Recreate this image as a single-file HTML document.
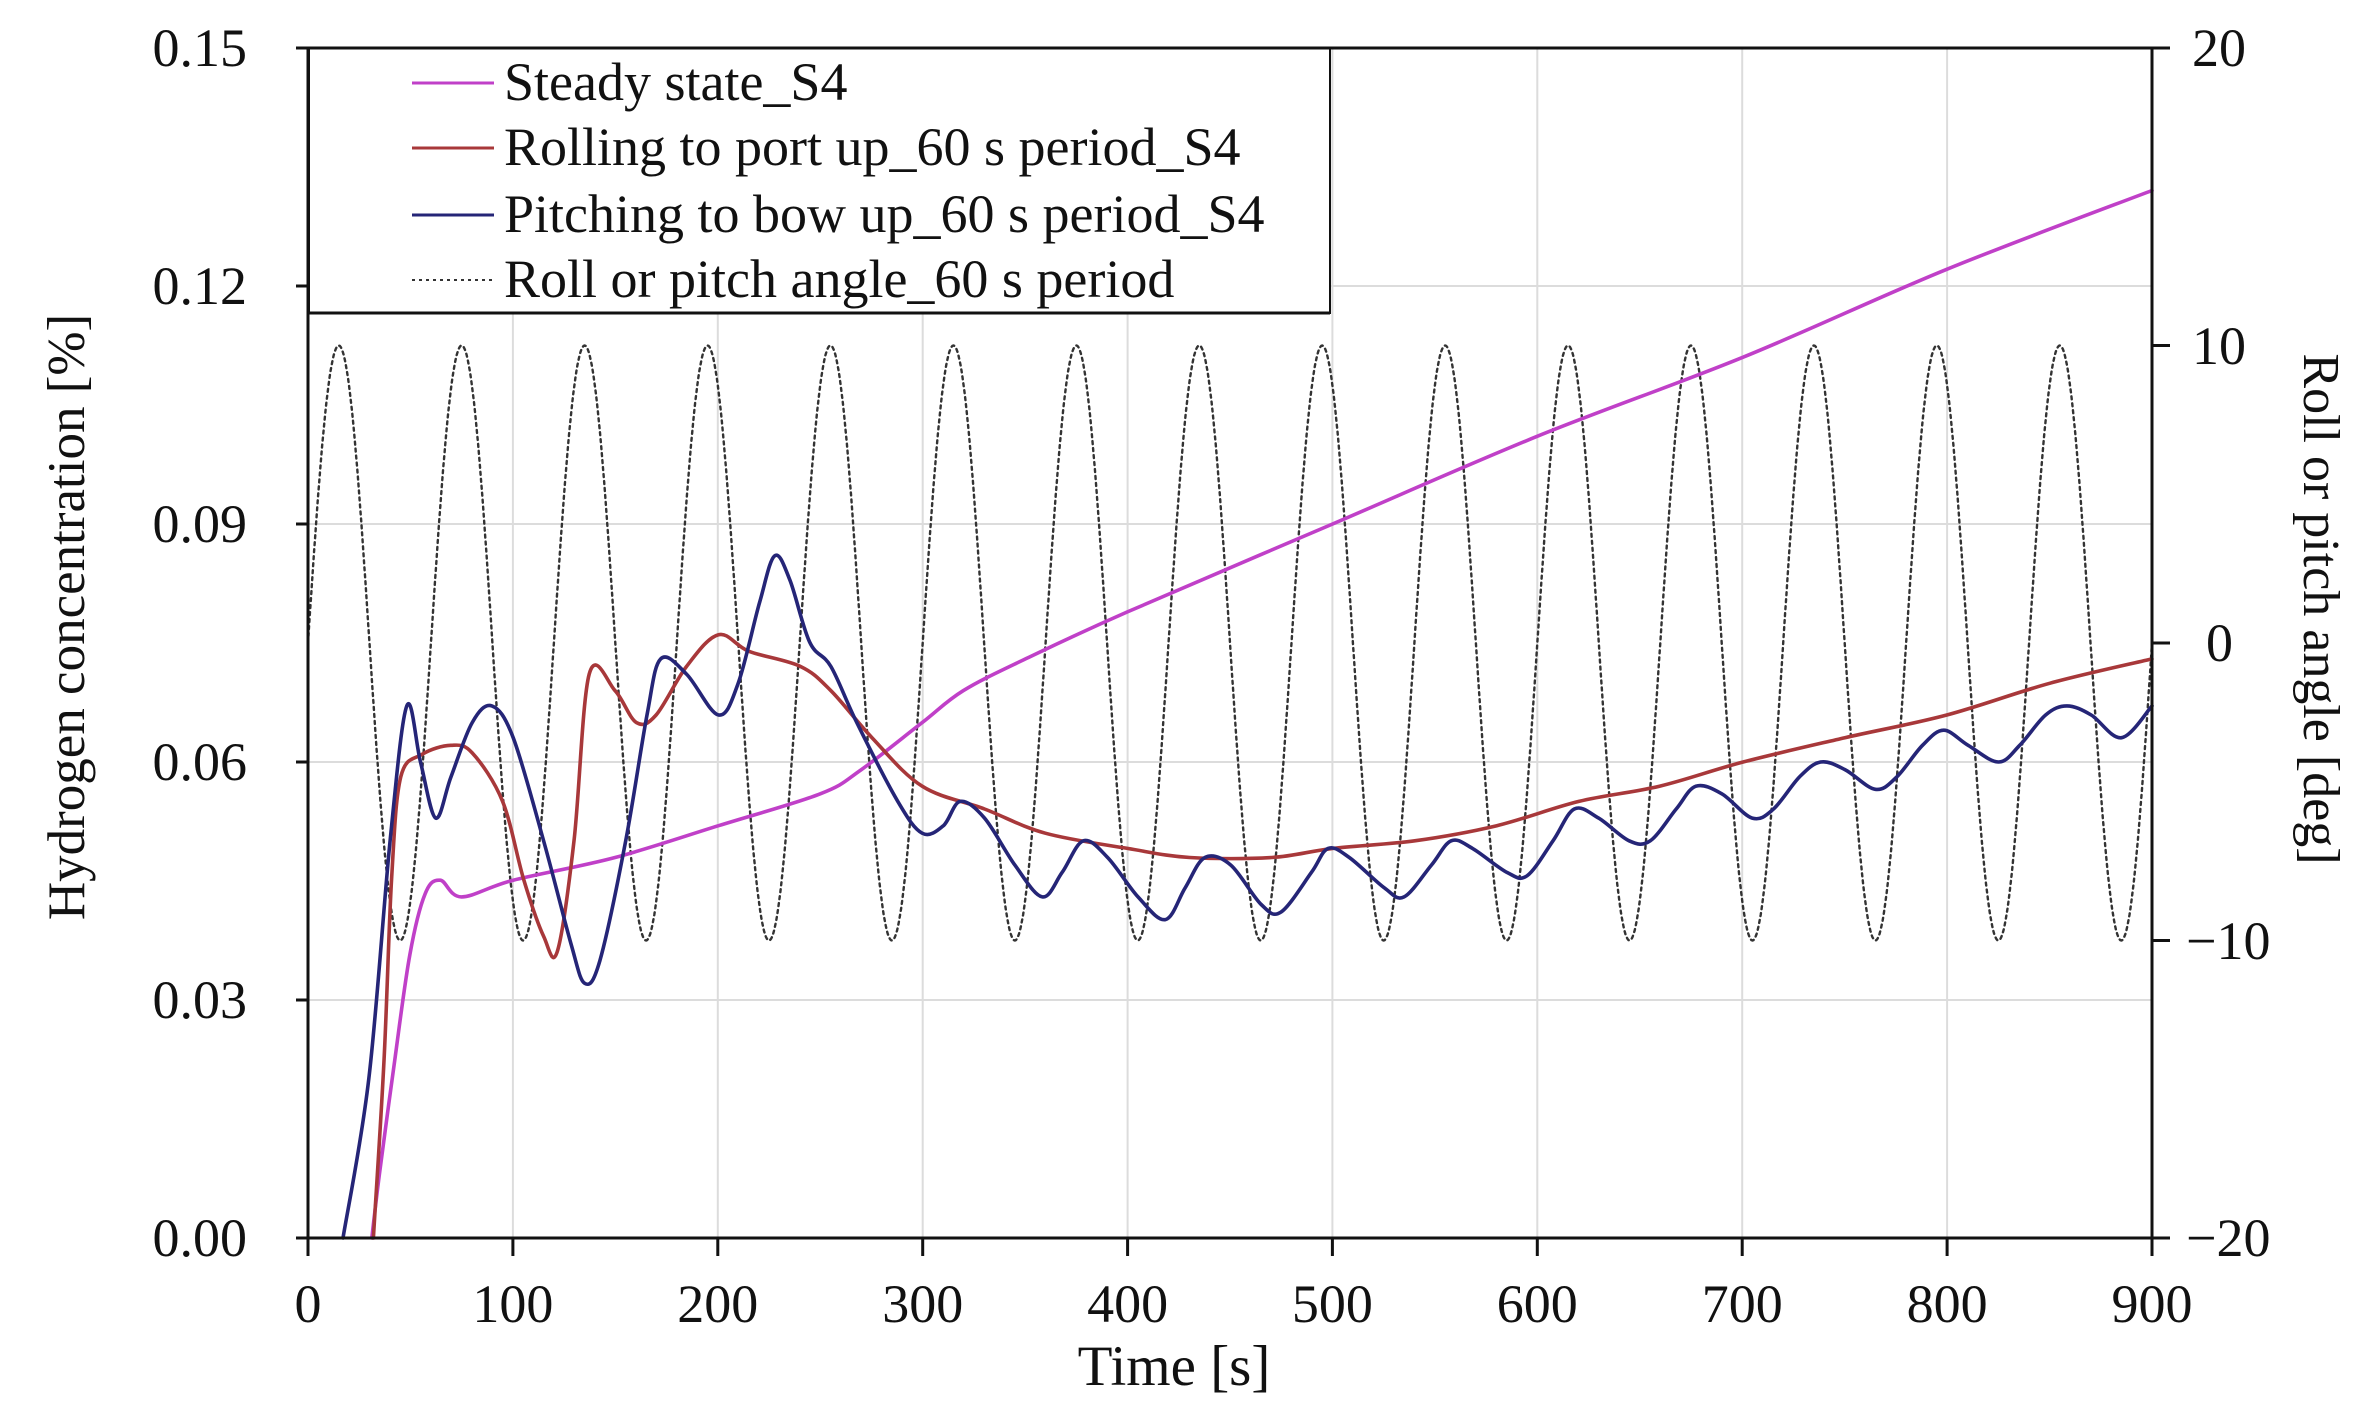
<!DOCTYPE html>
<html><head><meta charset="utf-8"><style>
html,body{margin:0;padding:0;background:#fff;}
svg{display:block;}
text{font-family:"Liberation Serif",serif;fill:#111;}
</style></head><body>
<svg id="s" width="2376" height="1420" viewBox="0 0 2376 1420" xmlns="http://www.w3.org/2000/svg">
<rect width="2376" height="1420" fill="#fff"/>
<g stroke="#dcdcdc" stroke-width="2">
<line x1="512.9" y1="48" x2="512.9" y2="1238"/><line x1="717.8" y1="48" x2="717.8" y2="1238"/>
<line x1="922.7" y1="48" x2="922.7" y2="1238"/><line x1="1127.6" y1="48" x2="1127.6" y2="1238"/>
<line x1="1332.4" y1="48" x2="1332.4" y2="1238"/><line x1="1537.3" y1="48" x2="1537.3" y2="1238"/>
<line x1="1742.2" y1="48" x2="1742.2" y2="1238"/><line x1="1947.1" y1="48" x2="1947.1" y2="1238"/>
<line x1="308" y1="286" x2="2152" y2="286"/><line x1="308" y1="524" x2="2152" y2="524"/>
<line x1="308" y1="762" x2="2152" y2="762"/><line x1="308" y1="1000" x2="2152" y2="1000"/>
</g>
<g id="curves" fill="none" stroke-linejoin="round" stroke-linecap="round"></g>
<rect x="309" y="48" width="1021" height="265" fill="#fff" stroke="#111" stroke-width="2"/>
<line x1="309" y1="313" x2="1330" y2="313" stroke="#111" stroke-width="3"/>
<rect x="308" y="48" width="1844" height="1190" fill="none" stroke="#111" stroke-width="3"/>
<g stroke="#111" stroke-width="3">
<line x1="296" y1="48" x2="308" y2="48"/><line x1="296" y1="286" x2="308" y2="286"/>
<line x1="296" y1="524" x2="308" y2="524"/><line x1="296" y1="762" x2="308" y2="762"/>
<line x1="296" y1="1000" x2="308" y2="1000"/><line x1="296" y1="1238" x2="308" y2="1238"/>
<line x1="2152" y1="48" x2="2170" y2="48"/><line x1="2152" y1="345.5" x2="2170" y2="345.5"/>
<line x1="2152" y1="643" x2="2170" y2="643"/><line x1="2152" y1="940.5" x2="2170" y2="940.5"/>
<line x1="2152" y1="1238" x2="2170" y2="1238"/>
<line x1="308" y1="1238" x2="308" y2="1256"/><line x1="512.9" y1="1238" x2="512.9" y2="1256"/>
<line x1="717.8" y1="1238" x2="717.8" y2="1256"/><line x1="922.7" y1="1238" x2="922.7" y2="1256"/>
<line x1="1127.6" y1="1238" x2="1127.6" y2="1256"/><line x1="1332.4" y1="1238" x2="1332.4" y2="1256"/>
<line x1="1537.3" y1="1238" x2="1537.3" y2="1256"/><line x1="1742.2" y1="1238" x2="1742.2" y2="1256"/>
<line x1="1947.1" y1="1238" x2="1947.1" y2="1256"/><line x1="2152" y1="1238" x2="2152" y2="1256"/>
</g>
<g font-size="54" text-anchor="end">
<text x="247" y="66">0.15</text><text x="247" y="304">0.12</text><text x="247" y="542">0.09</text>
<text x="247" y="780">0.06</text><text x="247" y="1018">0.03</text><text x="247" y="1256">0.00</text>
</g>
<g font-size="54" text-anchor="start">
<text x="2192" y="66">20</text><text x="2192" y="364">10</text><text x="2206" y="661">0</text>
<text x="2186" y="959">−10</text><text x="2186" y="1256">−20</text>
</g>
<g font-size="54" text-anchor="middle">
<text x="308" y="1322">0</text><text x="512.9" y="1322">100</text><text x="717.8" y="1322">200</text>
<text x="922.7" y="1322">300</text><text x="1127.6" y="1322">400</text><text x="1332.4" y="1322">500</text>
<text x="1537.3" y="1322">600</text><text x="1742.2" y="1322">700</text><text x="1947.1" y="1322">800</text>
<text x="2152" y="1322">900</text>
<text x="1174" y="1385" font-size="57">Time [s]</text>
<text transform="translate(84,617) rotate(-90)" font-size="53">Hydrogen concentration [%]</text>
<text transform="translate(2304,609) rotate(90)" font-size="52">Roll or pitch angle [deg]</text>
</g>
<g stroke-width="3">
<line x1="412" y1="83" x2="494" y2="83" stroke="#c040c8"/>
<line x1="412" y1="148" x2="494" y2="148" stroke="#a8383a"/>
<line x1="412" y1="215" x2="494" y2="215" stroke="#252577"/>
<line x1="412" y1="280" x2="492" y2="280" stroke="#333" stroke-width="2" stroke-dasharray="3,4"/>
</g>
<g font-size="54">
<text x="504" y="100">Steady state_S4</text>
<text x="504" y="165">Rolling to port up_60 s period_S4</text>
<text x="504" y="232">Pitching to bow up_60 s period_S4</text>
<text x="504" y="297">Roll or pitch angle_60 s period</text>
</g>
</svg>
<script>
(function(){
var g=document.getElementById('curves');
function X(xd){return 308+1.5202*(xd-205);}
function Y(yd){return 48+1.5159*(yd-32);}
function smooth(pts){
 var p=pts.map(function(a){return [X(a[0]),Y(a[1])];});
 var d='M'+p[0][0].toFixed(1)+','+p[0][1].toFixed(1);
 for(var i=0;i<p.length-1;i++){
  var p0=p[i-1]||p[i],p1=p[i],p2=p[i+1],p3=p[i+2]||p[i+1];
  var c1=[p1[0]+(p2[0]-p0[0])/6,p1[1]+(p2[1]-p0[1])/6];
  var c2=[p2[0]-(p3[0]-p1[0])/6,p2[1]-(p3[1]-p1[1])/6];
  d+='C'+c1[0].toFixed(1)+','+c1[1].toFixed(1)+' '+c2[0].toFixed(1)+','+c2[1].toFixed(1)+' '+p2[0].toFixed(1)+','+p2[1].toFixed(1);
 }
 return d;
}
function add(d,col,w,dash){
 var e=document.createElementNS('http://www.w3.org/2000/svg','path');
 e.setAttribute('d',d);e.setAttribute('stroke',col);e.setAttribute('stroke-width',w);
 if(dash)e.setAttribute('stroke-dasharray',dash);
 g.appendChild(e);
}
var d='';
for(var t=0;t<=900;t+=0.5){
 var x=308+t*1844/900, y=643-297.5*Math.sin(2*Math.PI*t/60);
 d+=(t==0?'M':'L')+x.toFixed(1)+','+y.toFixed(1);
}
add(d,'#333',2.4,'3,4');
var mag=[[247,817],[252,775],[262,700],[272,630],[282,590],[292,581],[306,592],[340,581],[407,566],[475,545],[542,524],[569,508],[609,477],[636,456],[677,435],[744,404],[879,346],[1014,288],[1149,236],[1283,178],[1418,126]];
var red=[[248,817],[255,700],[260,580],[266,513],[280,498],[299,492],[313,497],[333,529],[347,581],[360,618],[369,628],[380,555],[390,445],[407,456],[421,477],[434,472],[454,440],[475,419],[495,430],[529,440],[549,456],[576,487],[609,519],[650,534],[690,550],[744,560],[785,566],[839,566],[879,560],[933,555],[987,545],[1041,529],[1094,519],[1149,503],[1216,487],[1283,472],[1351,451],[1418,435]];
var blue=[[228,817],[245,712],[259,555],[270,466],[279,503],[289,540],[299,513],[313,477],[326,466],[340,487],[360,555],[378,623],[387,649],[397,634],[414,555],[428,472],[437,435],[454,445],[475,472],[488,451],[502,398],[512,367],[522,383],[535,424],[549,440],[566,477],[593,529],[609,550],[623,545],[634,529],[650,540],[670,571],[688,592],[701,576],[715,555],[731,566],[751,592],[769,607],[782,586],[795,566],[812,571],[832,597],[845,602],[865,576],[876,560],[890,566],[913,586],[926,592],[944,571],[957,555],[971,560],[994,576],[1007,578],[1024,555],[1038,534],[1054,540],[1074,555],[1088,555],[1105,534],[1118,519],[1135,524],[1155,540],[1169,534],[1186,513],[1200,503],[1216,508],[1236,521],[1250,513],[1267,492],[1281,482],[1297,492],[1317,503],[1331,492],[1348,472],[1362,466],[1378,472],[1398,487],[1418,466]];
add(smooth(mag),'#c040c8',3.6);
add(smooth(red),'#a8383a',3.6);
add(smooth(blue),'#252577',3.6);
})();
</script>
</body></html>
